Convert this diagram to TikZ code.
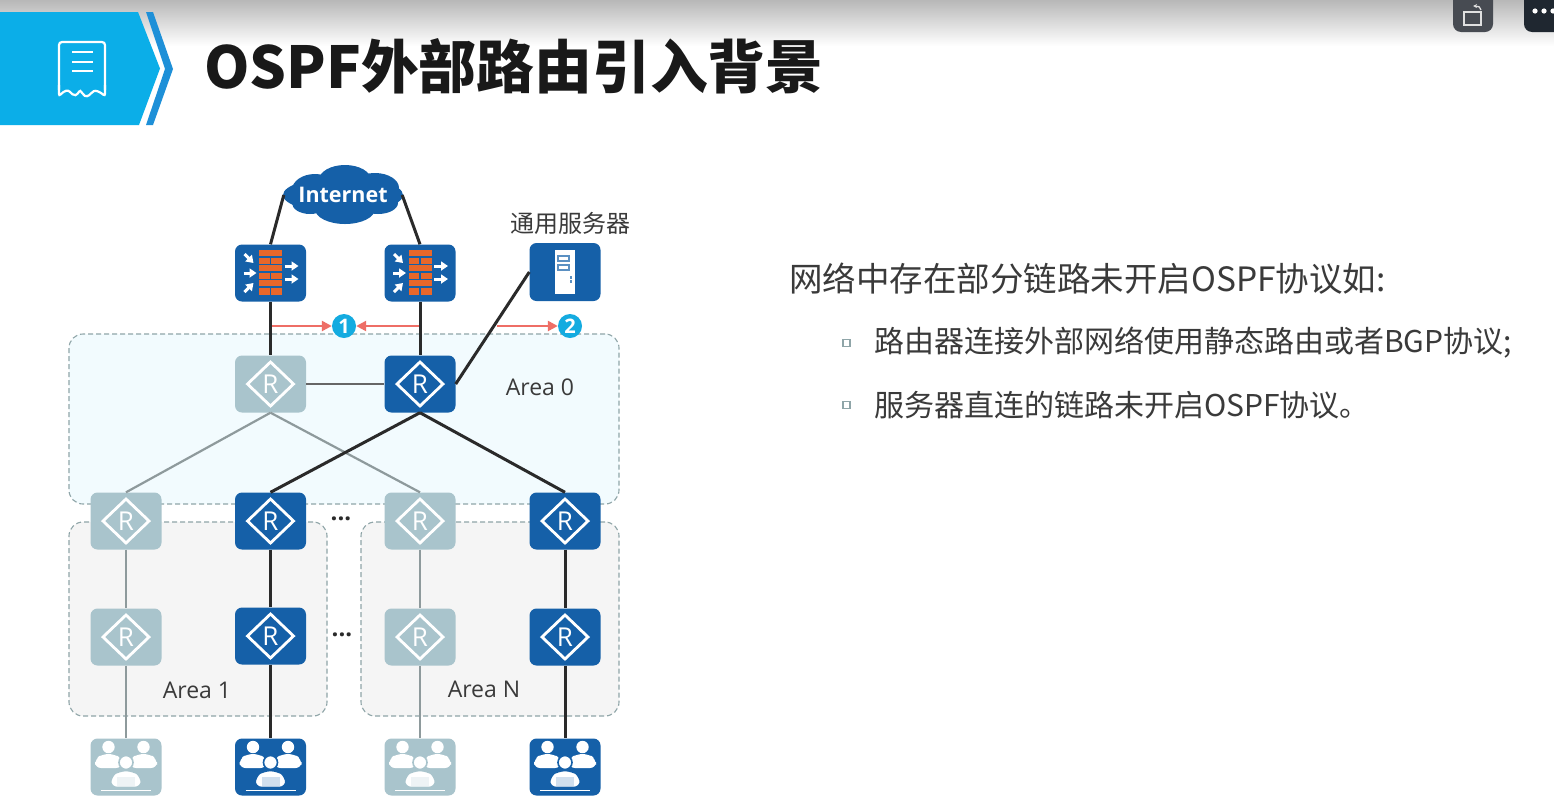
\documentclass[tikz,border=0pt]{standalone}
\usepackage{fontspec}
\newfontfamily\cjk{Noto Sans CJK SC}
\newfontfamily\latn{Open Sans}
\usetikzlibrary{arrows.meta,calc}
\definecolor{devblue}{HTML}{1560A8}
\definecolor{devfade}{HTML}{A9C4CC}
\definecolor{linefade}{HTML}{8E9A9C}
\definecolor{linedark}{HTML}{2A2A2A}
\definecolor{hdrblue}{HTML}{0BAEE8}
\definecolor{hdrdark}{HTML}{1E90D8}
\definecolor{brick}{HTML}{E8672A}
\definecolor{arrowred}{HTML}{EE6E66}
\definecolor{badge}{HTML}{14ABE0}
\definecolor{dashc}{HTML}{8FA5A8}
\definecolor{txt}{HTML}{3A3A3A}
\definecolor{btnone}{HTML}{474B52}
\definecolor{btntwo}{HTML}{1F2730}
\tikzset{
  x=1pt,y=-1pt,
  device/.style={rectangle,rounded corners=7,minimum width=71,minimum height=57,inner sep=0,text=white},
  routerbox/.style={device,font=\latn\fontsize{26}{26}\selectfont,
    path picture={\draw[white,line width=2.8,sharp corners,line join=miter] ($(path picture bounding box.center)+(-23,0)$)--++(23,-22)--++(23,22)--++(-23,22)--cycle;}},
  dark/.style={fill=devblue},
  fade/.style={fill=devfade},
  areabox/.style={rectangle,rounded corners=14,draw=dashc,dashed,dash pattern=on 5pt off 3pt,line width=1.1,inner sep=0},
  arealabel/.style={font=\latn\fontsize{23}{23}\selectfont,text=txt,inner sep=0},
  dlink/.style={draw=linedark,line width=3},
  flink/.style={draw=linefade,line width=2.2},
  redarrow/.style={draw=arrowred,line width=2.4,-{Triangle[length=10,width=10]}},
  badgenode/.style={circle,fill=badge,minimum size=24,inner sep=0,text=white,font=\latn\bfseries\fontsize{20}{20}\selectfont},
  bodytext/.style={font=\cjk\fontsize{30}{30}\selectfont,text=txt,inner sep=0,anchor=west},
  bulletbox/.style={rectangle,draw=dashc,fill=white,line width=1.2,minimum size=7,inner sep=0},
  dotsnode/.style={font=\latn\bfseries\fontsize{24}{24}\selectfont,text=linedark,inner sep=0},
  firewallglyph/.pic={
    \fill[brick] (-11.5,-23) rectangle (11.5,22);
    \foreach \yy in {-16,-8.5,-1,6.5,14}{\draw[devblue,line width=1.1] (-11.5,\yy)--(11.5,\yy);}
    \foreach \yy in {-12.2,2.8,17.8}{\draw[devblue,line width=1.3] (0,\yy-3.7)--(0,\yy+3.7);}
    \draw[white,line width=3,-{Triangle[length=7,width=9]}] (-26,-19)--(-17,-10);
    \draw[white,line width=3,-{Triangle[length=7,width=9]}] (-27,0)--(-14,0);
    \draw[white,line width=3,-{Triangle[length=7,width=9]}] (-26,19)--(-17,10);
    \draw[white,line width=3,-{Triangle[length=7,width=9]}] (14,-7)--(28,-7);
    \draw[white,line width=3,-{Triangle[length=7,width=9]}] (14,6)--(28,6);
  },
  serverglyph/.pic={
    \fill[white] (-10,-22) rectangle (10,22);
    \draw[devblue!70,line width=1.2] (-7,-16) rectangle (4,-11);
    \draw[devblue!70,line width=1.2] (-7,-7) rectangle (4,-2);
    \fill[devblue!70] (5,4) rectangle (7,6.5);
    \fill[devblue!70] (5,8) rectangle (7,10.5);
  },
  personglyph/.pic={
    \fill[white] (0,-11) circle (6.2);
    \fill[white,rounded corners=6] (-13.5,10) -- (-13.5,1) -- (-6,-4) -- (6,-4) -- (13.5,1) -- (13.5,10) -- cycle;
  },
  usersglyph/.pic={
    \begin{scope}[shift={(-17.5,-9)}]\pic {personglyph};\end{scope}
    \begin{scope}[shift={(17.5,-9)}]\pic {personglyph};\end{scope}
    \draw[#1,line width=2.6,fill=white,rounded corners=7] (-16,21) -- (-16,9) -- (-7,3) -- (7,3) -- (16,9) -- (16,21) -- cycle;
    \draw[#1,line width=1.6,fill=white] (0,-4.5) circle (7);
    \fill[white!80!#1] (-9,10) rectangle (9,19);
    \draw[white,line width=1.6] (-25,23.5)--(25,23.5);
  },
}
\begin{document}
\begin{tikzpicture}
\useasboundingbox (0,0) rectangle (1554,804);
\fill[white] (0,0) rectangle (1554,804);
\shade[top color=black!28,bottom color=white,shading angle=0] (0,0) rectangle (1554,46);

% header
\fill[hdrblue] (0,12)--(138,12)--(160,68.5)--(139,125)--(0,125)--cycle;
\fill[hdrdark] (146,12)--(153,12)--(173,69)--(153,125)--(146,125)--(165,69)--cycle;
\draw[white,line width=2.2,rounded corners=3] (59,42) rectangle (105,96);
\fill[hdrblue] (57,90) rectangle (107,99);
\draw[white,line width=2.2,rounded corners=2] (59,85)--(59,96) .. controls (65,90) and (68,90) .. (71,93) .. controls (77,98) and (79,90) .. (82,92) .. controls (85,98) and (89,96) .. (92,92) .. controls (96,90) and (100,92) .. (105,96)--(105,85);
\foreach \yy in {52,62,71}{\draw[white,line width=2.2] (72,\yy)--(93,\yy);}
\node[font=\cjk\bfseries\fontsize{57.8}{58}\selectfont,text=black!90,inner sep=0,anchor=west] (title) at (204,66) {OSPF外部路由引入背景};

% window buttons
\fill[btnone,rounded corners=8] (1453,-12) rectangle (1493,32);
\draw[white!88!black,line width=1.6] (1464,12) rectangle (1481,25);
\draw[white!88!black,line width=1.3,-{Stealth[length=4,width=4]}] (1481,10) .. controls (1481,7) and (1478,6) .. (1473,6);
\fill[btntwo,rounded corners=8] (1524,-12) rectangle (1570,32);
\foreach \xx in {1535,1544,1553}{\fill[white] (\xx,11) circle (2.6);}

% areas
\node[areabox,fill=cyan!5,minimum width=550,minimum height=170] (area0) at (344,419) {};
\node[areabox,fill=black!4,minimum width=258,minimum height=194] (area1) at (198,619) {};
\node[areabox,fill=black!4,minimum width=258,minimum height=194] (areaN) at (490,619) {};
\node[arealabel] (lab0) at (540,387) {Area 0};
\node[arealabel] (lab1) at (197,690) {Area 1};
\node[arealabel] (labN) at (484,689) {Area N};

% cloud
\fill[devblue] (343,195) ellipse (60 and 18);
\fill[devblue] (315,190) ellipse (23 and 16);
\fill[devblue] (345,180) ellipse (26 and 15);
\fill[devblue] (375,188) ellipse (24 and 15);
\fill[devblue] (310,203) ellipse (18 and 11);
\fill[devblue] (345,209) ellipse (30 and 15);
\fill[devblue] (378,203) ellipse (20 and 11);
\node[rectangle,minimum width=118,minimum height=30,inner sep=0,text=white,font=\latn\bfseries\fontsize{21.5}{22}\selectfont] (cloud) at (343,195) {Internet};

% top devices
\node[device,dark] (fw1) at (270.5,273) {};
\pic at (fw1) {firewallglyph};
\node[device,dark] (fw2) at (420,273) {};
\pic at (fw2) {firewallglyph};
\node[device,dark,minimum height=58] (srv) at (565,272) {};
\pic at (srv) {serverglyph};
\node[font=\cjk\fontsize{24}{24}\selectfont,text=txt,inner sep=0] (srvlab) at (570,223) {通用服务器};

% routers
\node[routerbox,fade] (a) at (270.5,384) {R};
\node[routerbox,dark] (b) at (420,384) {R};
\node[routerbox,fade] (c1) at (126,521) {R};
\node[routerbox,dark] (c2) at (270.5,521) {R};
\node[routerbox,fade] (c3) at (420,521) {R};
\node[routerbox,dark] (c4) at (565,521) {R};
\node[routerbox,fade] (d1) at (126,637) {R};
\node[routerbox,dark] (d2) at (270.5,636) {R};
\node[routerbox,fade] (d3) at (420,637) {R};
\node[routerbox,dark] (d4) at (565,637) {R};

% users
\node[device,fade] (u1) at (126,767) {};
\pic at (u1) {usersglyph=devfade};
\node[device,dark] (u2) at (270.5,767) {};
\pic at (u2) {usersglyph=devblue};
\node[device,fade] (u3) at (420,767) {};
\pic at (u3) {usersglyph=devfade};
\node[device,dark] (u4) at (565,767) {};
\pic at (u4) {usersglyph=devblue};

% links
\draw[dlink] (cloud.west) -- (fw1.north);
\draw[dlink] (cloud.east) -- (fw2.north);
\draw[dlink] (fw1) -- (a);
\draw[dlink] (fw2) -- (b);
\draw[dlink] (b.east) -- (srv.west);
\draw[draw=black!60,line width=2] (a) -- (b);
\draw[flink] (a.south) -- (c1.north);
\draw[flink] (a.south) -- (c3.north);
\draw[dlink] (b.south) -- (c2.north);
\draw[dlink] (b.south) -- (c4.north);
\draw[flink] (c1) -- (d1);
\draw[flink] (d1) -- (u1);
\draw[dlink] (c2) -- (d2);
\draw[dlink] (d2) -- (u2);
\draw[flink] (c3) -- (d3);
\draw[flink] (d3) -- (u3);
\draw[dlink] (c4) -- (d4);
\draw[dlink] (d4) -- (u4);

% badges and arrows
\node[badgenode] (n1) at (344,326) {1};
\node[badgenode] (n2) at (570,326) {2};
\coordinate (s1) at (272,326);
\coordinate (s2) at (419,326);
\coordinate (s3) at (497,326);
\draw[redarrow] (s1) -- (n1);
\draw[redarrow] (s2) -- (n1);
\draw[redarrow] (s3) -- (n2);

% dots
\node[dotsnode] (dots1) at (341,519) {...};
\node[dotsnode] (dots2) at (342,635) {...};

% text
\node[bodytext,font=\cjk\fontsize{33.5}{34}\selectfont] (t1) at (789,279) {网络中存在部分链路未开启OSPF协议如:};
\node[bulletbox] (b1) at (846.5,343) {};
\node[bodytext] (t2) at (874,343) {路由器连接外部网络使用静态路由或者BGP协议;};
\node[bulletbox] (b2) at (846.5,405) {};
\node[bodytext] (t3) at (874,405) {服务器直连的链路未开启OSPF协议。};
\end{tikzpicture}
\end{document}
